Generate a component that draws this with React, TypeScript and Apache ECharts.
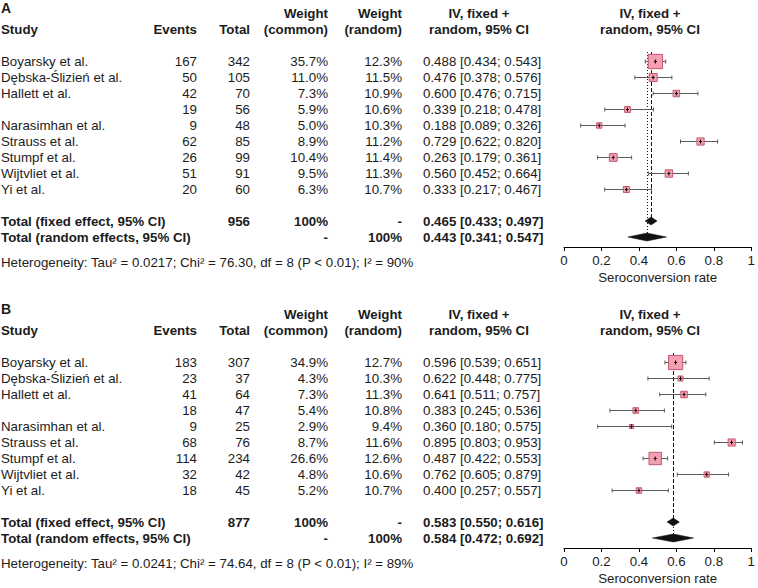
import { useEffect, useRef } from "react";
import * as echarts from "echarts";

// ---------- data ----------
const studyNames = [
  "Boyarsky et al.",
  "Dębska-Ślizień et al.",
  "Hallett et al.",
  "",
  "Narasimhan et al.",
  "Strauss et al.",
  "Stumpf et al.",
  "Wijtvliet et al.",
  "Yi et al.",
];

const eventsA = [167, 50, 42, 19, 9, 62, 26, 51, 20];
const totalsA = [342, 105, 70, 56, 48, 85, 99, 91, 60];
const weightCommonA = [35.7, 11.0, 7.3, 5.9, 5.0, 8.9, 10.4, 9.5, 6.3];
const weightRandomA = [12.3, 11.5, 10.9, 10.6, 10.3, 11.2, 11.4, 11.3, 10.7];
const estimateA = [0.488, 0.476, 0.6, 0.339, 0.188, 0.729, 0.263, 0.56, 0.333];
const lowerA = [0.434, 0.378, 0.476, 0.218, 0.089, 0.622, 0.179, 0.452, 0.217];
const upperA = [0.543, 0.576, 0.715, 0.478, 0.326, 0.82, 0.361, 0.664, 0.467];
const fixedA = [0.465, 0.433, 0.497];
const randomA = [0.443, 0.341, 0.547];
const totalNA = 956;
const hetA = "Heterogeneity: Tau² = 0.0217; Chi² = 76.30, df = 8 (P < 0.01); I² = 90%";

const eventsB = [183, 23, 41, 18, 9, 68, 114, 32, 18];
const totalsB = [307, 37, 64, 47, 25, 76, 234, 42, 45];
const weightCommonB = [34.9, 4.3, 7.3, 5.4, 2.9, 8.7, 26.6, 4.8, 5.2];
const weightRandomB = [12.7, 10.3, 11.3, 10.8, 9.4, 11.6, 12.6, 10.6, 10.7];
const estimateB = [0.596, 0.622, 0.641, 0.383, 0.36, 0.895, 0.487, 0.762, 0.4];
const lowerB = [0.539, 0.448, 0.511, 0.245, 0.18, 0.803, 0.422, 0.605, 0.257];
const upperB = [0.651, 0.775, 0.757, 0.536, 0.575, 0.953, 0.553, 0.879, 0.557];
const fixedB = [0.583, 0.55, 0.616];
const randomB = [0.584, 0.472, 0.692];
const totalNB = 877;
const hetB = "Heterogeneity: Tau² = 0.0241; Chi² = 74.64, df = 8 (P < 0.01); I² = 89%";

const axisTicks = [0, 0.2, 0.4, 0.6, 0.8, 1];
const axisTitle = "Seroconversion rate";

// ---------- layout / style ----------
const FONT = "'Liberation Sans', Arial, Helvetica, sans-serif";
const TEXT = "#1c1c1c";
const FS = 13.3;
const PANEL_TOP = [5, 306];
const GRID_LEFT = 564;
const GRID_WIDTH = 191;
const GRID_HEIGHT = 242;
const ROW_MIN = -3.5;
const ROW_MAX = 11.625;
const COL = {
  study: 1,
  events: 197,
  total: 250,
  wCommon: 328,
  wRandom: 402,
  ci: 423,
  ciHead: 479,
  plotHead: 650,
};
const ROW_LETTER = -3.32;
const ROW_HEAD1 = -2.95;
const ROW_HEAD2 = -1.95;
const ROW_FIXED = 10;
const ROW_RANDOM = 11;
const ROW_HET = 12.58;
const BOX_SCALE = 2.4;
const BOX_FILL = "#f3a1b2";
const BOX_STROKE = "#c4546f";
const CI_COLOR = "#5a5a5a";

const fmtCI = (e: number, l: number, u: number) =>
  `${e.toFixed(3)} [${l.toFixed(3)}; ${u.toFixed(3)}]`;
const pct = (v: number) => `${v.toFixed(1)}%`;

type TextItem = {
  row: number;
  x: number;
  text: string;
  align: "left" | "right" | "center";
  bold?: boolean;
  size?: number;
};

type Panel = {
  letter: string;
  events: number[];
  totals: number[];
  wCommon: number[];
  wRandom: number[];
  est: number[];
  lo: number[];
  hi: number[];
  fixed: number[];
  random: number[];
  totalN: number;
  het: string;
};

const panels: Panel[] = [
  {
    letter: "A",
    events: eventsA,
    totals: totalsA,
    wCommon: weightCommonA,
    wRandom: weightRandomA,
    est: estimateA,
    lo: lowerA,
    hi: upperA,
    fixed: fixedA,
    random: randomA,
    totalN: totalNA,
    het: hetA,
  },
  {
    letter: "B",
    events: eventsB,
    totals: totalsB,
    wCommon: weightCommonB,
    wRandom: weightRandomB,
    est: estimateB,
    lo: lowerB,
    hi: upperB,
    fixed: fixedB,
    random: randomB,
    totalN: totalNB,
    het: hetB,
  },
];

function tableItems(p: Panel): TextItem[] {
  const items: TextItem[] = [];
  items.push({ row: ROW_LETTER, x: COL.study, text: p.letter, align: "left", bold: true, size: 14 });
  items.push({ row: ROW_HEAD1, x: COL.wCommon, text: "Weight", align: "right", bold: true });
  items.push({ row: ROW_HEAD1, x: COL.wRandom, text: "Weight", align: "right", bold: true });
  items.push({ row: ROW_HEAD1, x: COL.ciHead, text: "IV, fixed +", align: "center", bold: true });
  items.push({ row: ROW_HEAD1, x: COL.plotHead, text: "IV, fixed +", align: "center", bold: true });
  items.push({ row: ROW_HEAD2, x: COL.study, text: "Study", align: "left", bold: true });
  items.push({ row: ROW_HEAD2, x: COL.events, text: "Events", align: "right", bold: true });
  items.push({ row: ROW_HEAD2, x: COL.total, text: "Total", align: "right", bold: true });
  items.push({ row: ROW_HEAD2, x: COL.wCommon, text: "(common)", align: "right", bold: true });
  items.push({ row: ROW_HEAD2, x: COL.wRandom, text: "(random)", align: "right", bold: true });
  items.push({ row: ROW_HEAD2, x: COL.ciHead, text: "random, 95% CI", align: "center", bold: true });
  items.push({ row: ROW_HEAD2, x: COL.plotHead, text: "random, 95% CI", align: "center", bold: true });
  studyNames.forEach((name, i) => {
    if (name) items.push({ row: i, x: COL.study, text: name, align: "left" });
    items.push({ row: i, x: COL.events, text: String(p.events[i]), align: "right" });
    items.push({ row: i, x: COL.total, text: String(p.totals[i]), align: "right" });
    items.push({ row: i, x: COL.wCommon, text: pct(p.wCommon[i]), align: "right" });
    items.push({ row: i, x: COL.wRandom, text: pct(p.wRandom[i]), align: "right" });
    items.push({ row: i, x: COL.ci, text: fmtCI(p.est[i], p.lo[i], p.hi[i]), align: "left" });
  });
  items.push({ row: ROW_FIXED, x: COL.study, text: "Total (fixed effect, 95% CI)", align: "left", bold: true });
  items.push({ row: ROW_FIXED, x: COL.total, text: String(p.totalN), align: "right", bold: true });
  items.push({ row: ROW_FIXED, x: COL.wCommon, text: "100%", align: "right", bold: true });
  items.push({ row: ROW_FIXED, x: COL.wRandom, text: "-", align: "right", bold: true });
  items.push({ row: ROW_FIXED, x: COL.ci, text: fmtCI(p.fixed[0], p.fixed[1], p.fixed[2]), align: "left", bold: true });
  items.push({ row: ROW_RANDOM, x: COL.study, text: "Total (random effects, 95% CI)", align: "left", bold: true });
  items.push({ row: ROW_RANDOM, x: COL.wCommon, text: "-", align: "right", bold: true });
  items.push({ row: ROW_RANDOM, x: COL.wRandom, text: "100%", align: "right", bold: true });
  items.push({ row: ROW_RANDOM, x: COL.ci, text: fmtCI(p.random[0], p.random[1], p.random[2]), align: "left", bold: true });
  items.push({ row: ROW_HET, x: COL.study, text: p.het, align: "left" });
  return items;
}

function buildOption(): any {
  const grid: any[] = [];
  const xAxis: any[] = [];
  const yAxis: any[] = [];
  const series: any[] = [];

  panels.forEach((p, pi) => {
    grid.push({ left: GRID_LEFT, width: GRID_WIDTH, top: PANEL_TOP[pi], height: GRID_HEIGHT });
    xAxis.push({
      gridIndex: pi,
      type: "value",
      min: axisTicks[0],
      max: axisTicks[axisTicks.length - 1],
      interval: axisTicks[1] - axisTicks[0],
      axisLine: { show: true, onZero: false, lineStyle: { color: "#000", width: 1 } },
      axisTick: { show: true, length: 4, lineStyle: { color: "#000", width: 1 } },
      axisLabel: { color: TEXT, fontSize: FS, fontFamily: FONT, margin: 7 },
      splitLine: { show: false },
      name: axisTitle,
      nameLocation: "middle",
      nameGap: 24,
      nameTextStyle: { color: TEXT, fontSize: FS, fontFamily: FONT },
    });
    yAxis.push({
      gridIndex: pi,
      type: "value",
      inverse: true,
      min: ROW_MIN,
      max: ROW_MAX,
      show: false,
      splitLine: { show: false },
    });

    // reference lines (fixed dashed, random dotted)
    series.push({
      type: "custom",
      xAxisIndex: pi,
      yAxisIndex: pi,
      silent: true,
      clip: false,
      data: [
        [p.fixed[0], -0.56, ROW_FIXED, 0],
        [p.random[0], -0.56, ROW_RANDOM, 1],
      ],
      encode: { x: 0, y: [1, 2] },
      renderItem: (_params: any, api: any) => {
        const a = api.coord([api.value(0), api.value(1)]);
        const b = api.coord([api.value(0), api.value(2)]);
        const dotted = api.value(3) === 1;
        return {
          type: "line",
          shape: { x1: Math.round(a[0]) + 0.5, y1: a[1], x2: Math.round(a[0]) + 0.5, y2: b[1] },
          style: { stroke: "#111", lineWidth: 1, lineDash: dotted ? [1, 2] : [4, 2] },
        };
      },
    });

    // studies: CI lines + boxes
    series.push({
      type: "custom",
      xAxisIndex: pi,
      yAxisIndex: pi,
      silent: true,
      clip: false,
      data: p.est.map((e, i) => [i, e, p.lo[i], p.hi[i], p.wCommon[i]]),
      encode: { x: [1, 2, 3], y: 0 },
      renderItem: (_params: any, api: any) => {
        const row = api.value(0);
        const c = api.coord([api.value(1), row]);
        const l = api.coord([api.value(2), row]);
        const h = api.coord([api.value(3), row]);
        const s = BOX_SCALE * Math.sqrt(api.value(4));
        const y = Math.round(c[1]) + 0.5;
        return {
          type: "group",
          children: [
            { type: "line", shape: { x1: l[0], y1: y, x2: h[0], y2: y }, style: { stroke: CI_COLOR, lineWidth: 1 } },
            { type: "line", shape: { x1: l[0], y1: y - 2, x2: l[0], y2: y + 2 }, style: { stroke: CI_COLOR, lineWidth: 1 } },
            { type: "line", shape: { x1: h[0], y1: y - 2, x2: h[0], y2: y + 2 }, style: { stroke: CI_COLOR, lineWidth: 1 } },
            {
              type: "rect",
              shape: { x: c[0] - s / 2, y: y - s / 2, width: s, height: s },
              style: { fill: BOX_FILL, stroke: BOX_STROKE, lineWidth: 1 },
            },
            { type: "line", shape: { x1: c[0], y1: y - 2, x2: c[0], y2: y + 2 }, style: { stroke: "#000", lineWidth: 1 } },
            { type: "line", shape: { x1: c[0] - 1.5, y1: y, x2: c[0] + 1.5, y2: y }, style: { stroke: "#000", lineWidth: 1 } },
          ],
        };
      },
    });

    // pooled diamonds
    series.push({
      type: "custom",
      xAxisIndex: pi,
      yAxisIndex: pi,
      silent: true,
      clip: false,
      data: [
        [ROW_FIXED, p.fixed[0], p.fixed[1], p.fixed[2]],
        [ROW_RANDOM, p.random[0], p.random[1], p.random[2]],
      ],
      encode: { x: [1, 2, 3], y: 0 },
      renderItem: (_params: any, api: any) => {
        const row = api.value(0);
        const c = api.coord([api.value(1), row]);
        const l = api.coord([api.value(2), row]);
        const h = api.coord([api.value(3), row]);
        const hh = 4;
        return {
          type: "polygon",
          shape: {
            points: [
              [l[0], c[1]],
              [c[0], c[1] - hh],
              [h[0], c[1]],
              [c[0], c[1] + hh],
            ],
          },
          style: { fill: "#111", stroke: "#111", lineWidth: 0.5 },
        };
      },
    });

    // table text
    const items = tableItems(p);
    series.push({
      type: "custom",
      xAxisIndex: pi,
      yAxisIndex: pi,
      silent: true,
      clip: false,
      data: items.map((t) => [0, t.row]),
      encode: { x: 0, y: 1 },
      renderItem: (params: any, api: any) => {
        const t = items[params.dataIndex];
        const y = api.coord([0, t.row])[1];
        return {
          type: "text",
          style: {
            text: t.text,
            x: t.x,
            y,
            fill: TEXT,
            fontSize: t.size ?? FS,
            fontFamily: FONT,
            fontWeight: t.bold ? "bold" : "normal",
            align: t.align,
            verticalAlign: "middle",
          },
        };
      },
    });
  });

  return {
    animation: false,
    backgroundColor: "#ffffff",
    tooltip: { show: false },
    grid,
    xAxis,
    yAxis,
    series,
  };
}

export default function App() {
  const ref = useRef<HTMLDivElement>(null);
  useEffect(() => {
    if (!ref.current) return;
    const chart = echarts.init(ref.current, null, { renderer: "svg" });
    chart.setOption(buildOption());
    return () => chart.dispose();
  }, []);
  return (
    <div
      ref={ref}
      style={{ position: "absolute", left: 0, top: 0, width: 758, height: 588, background: "#fff" }}
    />
  );
}
